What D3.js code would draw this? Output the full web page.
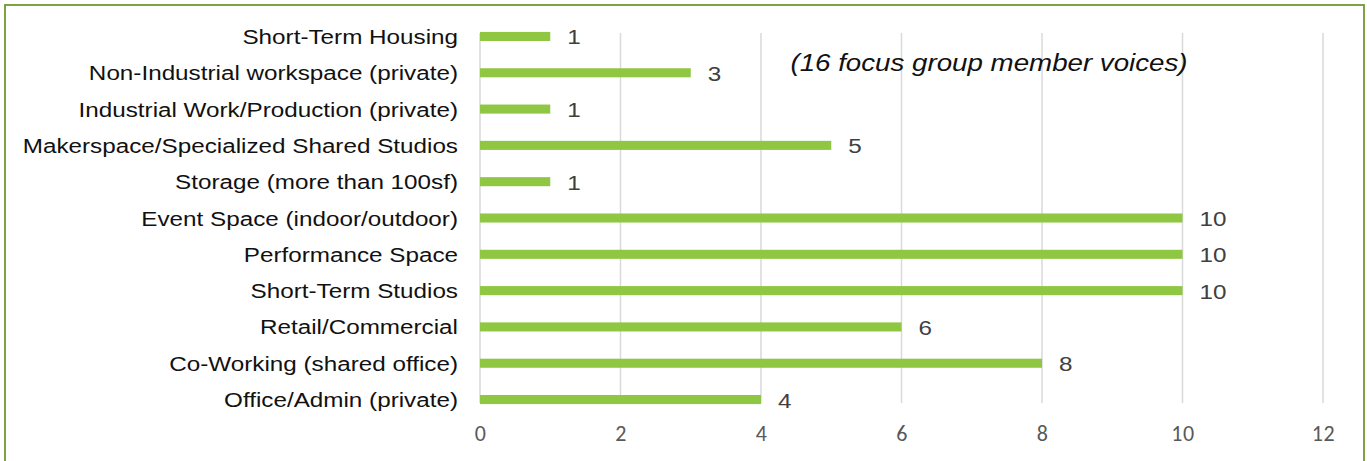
<!DOCTYPE html>
<html><head><meta charset="utf-8">
<script src="https://cdn.jsdelivr.net/npm/d3@7"></script>
<style>body{margin:0;background:#fff}svg{display:block}</style>
</head><body>
<script>
const categories = ["Short-Term Housing","Non-Industrial workspace (private)","Industrial Work/Production (private)","Makerspace/Specialized Shared Studios","Storage (more than 100sf)","Event Space (indoor/outdoor)","Performance Space ","Short-Term Studios","Retail/Commercial","Co-Working (shared office)","Office/Admin (private)"];
const values = [1,3,1,5,1,10,10,10,6,8,4];
const xTicks = [0,2,4,6,8,10,12];
const note = "(16 focus group member voices)";

const W = 1367, H = 461;
const SX = 1.155; // horizontal stretch of the reference's text
const svg = d3.select("body").append("svg").attr("width", W).attr("height", H);

// frame
svg.append("rect").attr("x",5).attr("y",5).attr("width",1359).attr("height",470)
  .attr("fill","none").attr("stroke","#70992f").attr("stroke-width",1.8);

const x = d3.scaleLinear().domain([0,12]).range([480,1323]);
const y = d3.scaleBand().domain(categories).range([18.3,417.7]).paddingInner(0.75).paddingOuter(0.375);

const gridTop = 33, gridBottom = 403;
svg.append("g").selectAll("line").data(xTicks).join("line")
  .attr("x1",d=>x(d)).attr("x2",d=>x(d)).attr("y1",gridTop).attr("y2",gridBottom)
  .attr("stroke","#d9d9d9").attr("stroke-width",1.5);

svg.append("g").selectAll("rect").data(values).join("rect")
  .attr("x",x(0)).attr("y",(d,i)=>y(categories[i]))
  .attr("width",d=>x(d)-x(0)).attr("height",y.bandwidth())
  .attr("fill","#8fc743");

svg.append("g").selectAll("text").data(values).join("text")
  .attr("transform",(d,i)=>`translate(${x(d)+17},${y(categories[i])+y.bandwidth()/2+8}) scale(${SX},1)`)
  .style("font-family","'Liberation Sans', Arial, sans-serif").style("font-size","21px")
  .attr("fill","#404040").text(d=>d);

svg.append("g").selectAll("text").data(categories).join("text")
  .attr("transform",d=>`translate(458,${y(d)+y.bandwidth()/2+7.5}) scale(${SX},1)`)
  .attr("text-anchor","end")
  .style("font-family","'Liberation Sans', Arial, sans-serif").style("font-size","21px")
  .attr("fill","#111").text(d=>d);

const axis = d3.axisBottom(x).tickValues(xTicks).tickSize(0).tickPadding(0);
const ag = svg.append("g").attr("transform","translate(0,441)").call(axis);
ag.select(".domain").remove();
ag.selectAll("text")
  .style("font-family","Carlito, 'Open Sans', sans-serif").style("font-size","22px")
  .style("letter-spacing","0.6px")
  .attr("fill","#595959").attr("dy",0);

svg.append("text").attr("transform",`translate(989,71) scale(${SX},1)`).attr("text-anchor","middle")
  .style("font-family","'Liberation Sans', Arial, sans-serif").style("font-style","italic")
  .style("font-size","24px")
  .attr("fill","#111").text(note);
</script>
</body></html>
